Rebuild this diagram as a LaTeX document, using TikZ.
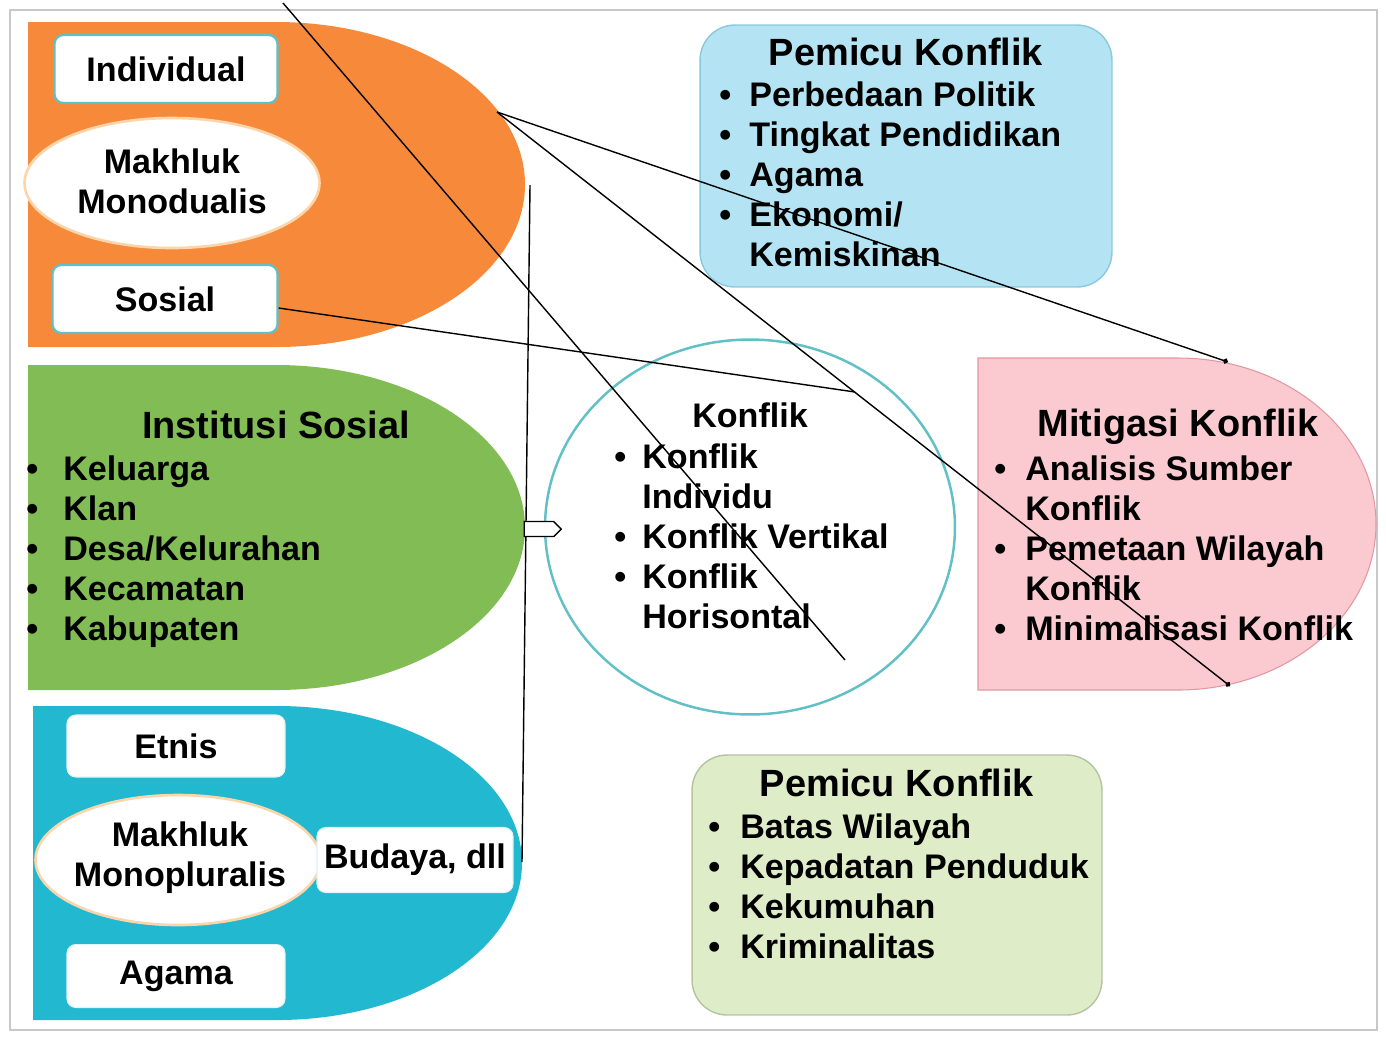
\documentclass[tikz,border=0pt]{standalone}
\usepackage{fontspec}
\setmainfont{Liberation Sans}
\definecolor{FrameColor}{RGB}{200,200,200}
\definecolor{OrangeColor}{RGB}{247,138,58}
\definecolor{GreenColor}{RGB}{130,188,84}
\definecolor{TealColor}{RGB}{34,184,208}
\definecolor{SkyColor}{RGB}{180,228,243}
\definecolor{SkyEdge}{RGB}{140,200,220}
\definecolor{PinkColor}{RGB}{250,202,208}
\definecolor{PinkEdge}{RGB}{228,150,160}
\definecolor{SageColor}{RGB}{222,236,200}
\definecolor{SageEdge}{RGB}{180,196,160}
\definecolor{EdgeColor}{RGB}{96,192,198}
\definecolor{CreamEdge}{RGB}{252,214,170}
\usepackage{tikz}
\usetikzlibrary{positioning, arrows.meta, shapes.geometric, shapes.arrows}
\newcommand{\bodyfont}{\bfseries\fontsize{19.4}{22.8}\selectfont}
\newcommand{\titlefont}{\bfseries\fontsize{21.6}{25}\selectfont}
\newcommand{\itm}[1][0.6cm]{\makebox[#1][l]{\textbullet}}
\newcommand{\cnt}[1][0.6cm]{\hspace*{#1}}
\tikzstyle{link} = [black, line width=0.8pt]
\tikzstyle{dotlink} = [link, -{Circle[length=3pt]}]
\tikzstyle{labelbox} = [rectangle, rounded corners=5pt, draw=EdgeColor, line width=1.3pt, fill=white, font=\bodyfont]
\tikzstyle{plainbox} = [labelbox, draw=TealColor!15, line width=0.6pt]
\tikzstyle{oval} = [ellipse, draw=CreamEdge, line width=1.5pt, fill=white, inner sep=0pt]
\tikzset{
  title/.style={font=\titlefont, inner sep=0pt},
  ovaltext/.style={align=center, inner sep=0pt, font=\bodyfont},
  listtext/.style={align=left, inner sep=0pt, anchor=north west, font=\bodyfont},
  sky box/.style={rectangle, rounded corners=0.7cm, fill=SkyColor, draw=SkyEdge, line width=0.8pt},
  sage box/.style={rectangle, rounded corners=0.7cm, fill=SageColor, draw=SageEdge, line width=0.8pt}
}

\begin{document}
\begin{tikzpicture}[x=0.02cm, y=-0.02cm]
  \useasboundingbox (0,0) rectangle (1386,1036);
  \draw[FrameColor, line width=1.2pt] (10,10) rectangle (1377,1030);

  % Makhluk monodualis
  \fill[OrangeColor] (28,22) -- (276,22) arc[start angle=-90, end angle=90, x radius=249, y radius=162.5] -- (28,347) -- cycle;
  \node[labelbox, minimum width=4.46cm, minimum height=1.36cm] (indiv) at (166,69) {Individual};
  \node[oval, minimum width=5.9cm, minimum height=2.6cm] (mono) at (172,183) {};
  \node[ovaltext] (monotext) at (172,181) {Makhluk\\Monodualis};
  \node[labelbox, minimum width=4.5cm, minimum height=1.36cm] (sosial) at (165,299) {Sosial};

  % Institusi sosial
  \fill[GreenColor] (28,365) -- (276,365) arc[start angle=-90, end angle=90, x radius=249, y radius=162.5] -- (28,690) -- cycle;
  \node[title] (insttitle) at (276,425) {Institusi Sosial};
  \node[listtext] (instlist) at (26,455) {\itm[0.74cm]Keluarga\\\itm[0.74cm]Klan\\\itm[0.74cm]Desa/Kelurahan\\\itm[0.74cm]Kecamatan\\\itm[0.74cm]Kabupaten};

  % Makhluk monopluralis
  \fill[TealColor] (33,706) -- (277,706) arc[start angle=-90, end angle=90, x radius=245, y radius=157] -- (33,1020) -- cycle;
  \node[plainbox, minimum width=4.36cm, minimum height=1.24cm] (etnis) at (176,746) {Etnis};
  \node[oval, minimum width=5.7cm, minimum height=2.6cm] (plural) at (178,860) {};
  \node[ovaltext] (pluraltext) at (180,858) {Makhluk\\Monopluralis};
  \node[plainbox, minimum width=3.92cm, minimum height=1.3cm] (budaya) at (415,860) {Budaya, dll};
  \node[plainbox, minimum width=4.36cm, minimum height=1.26cm] (agama) at (176,976) {Agama};

  % Pemicu konflik (atas)
  \node[sky box, minimum width=8.24cm, minimum height=5.24cm] (pemicuA) at (906,156) {};
  \node[title] (pemicuAtitle) at (906,52) {Pemicu Konflik};
  \node[listtext] (pemicuAlist) at (719,81) {\itm Perbedaan Politik\\\itm Tingkat Pendidikan\\\itm Agama\\\itm Ekonomi/\\\cnt Kemiskinan};

  % Konflik
  \node[ellipse, draw=EdgeColor, line width=1.4pt, fill=white, minimum width=8.2cm, minimum height=7.5cm] (konflik) at (750,527) {};
  \node[title, font=\bodyfont] (konfliktitle) at (750,415) {Konflik};
  \node[listtext] (konfliklist) at (614,443) {\itm[0.56cm]Konflik\\\cnt[0.56cm]Individu\\\itm[0.56cm]Konflik Vertikal\\\itm[0.56cm]Konflik\\\cnt[0.56cm]Horisontal};

  % Mitigasi konflik
  \filldraw[fill=PinkColor, draw=PinkEdge, line width=0.6pt] (978,358) -- (1178,358) arc[start angle=-90, end angle=90, x radius=198, y radius=166] -- (978,690) -- cycle;
  \node[title] (mitigasititle) at (1178,427) {Mitigasi Konflik};
  \node[listtext] (mitigasilist) at (994,455) {\itm[0.62cm]Analisis Sumber\\\cnt[0.62cm]Konflik\\\itm[0.62cm]Pemetaan Wilayah\\\cnt[0.62cm]Konflik\\\itm[0.62cm]Minimalisasi Konflik};

  % Pemicu konflik (bawah)
  \node[sage box, minimum width=8.2cm, minimum height=5.2cm] (pemicuB) at (897,885) {};
  \node[title] (pemicuBtitle) at (897,783) {Pemicu Konflik};
  \node[listtext] (pemicuBlist) at (708,813) {\itm[0.64cm]Batas Wilayah\\\itm[0.64cm]Kepadatan Penduduk\\\itm[0.64cm]Kekumuhan\\\itm[0.64cm]Kriminalitas};

  % Lines
  \coordinate (topstart) at (283,3);
  \coordinate (cross) at (845,660);
  \coordinate (ojunc) at (497,112);
  \coordinate (mtop) at (1228,362);
  \coordinate (mbot) at (1230,686);
  \coordinate (sosend) at (855,392);
  \coordinate (vtop) at (530,185);
  \coordinate (vbot) at (522,862);
  \draw[link] (topstart) -- (cross);
  \draw[dotlink] (ojunc) -- (mtop);
  \draw[dotlink] (ojunc) -- (mbot);
  \draw[link] ([yshift=-0.18cm]sosial.east) -- (sosend);
  \draw[link] (vtop) -- (vbot);

  % Small arrow
  \node[single arrow, draw=black, fill=white, line width=0.8pt, single arrow head extend=0pt, minimum height=0.74cm, minimum width=0.3cm, inner sep=0pt] (arrw) at (539,529) {};
\end{tikzpicture}
\end{document}
